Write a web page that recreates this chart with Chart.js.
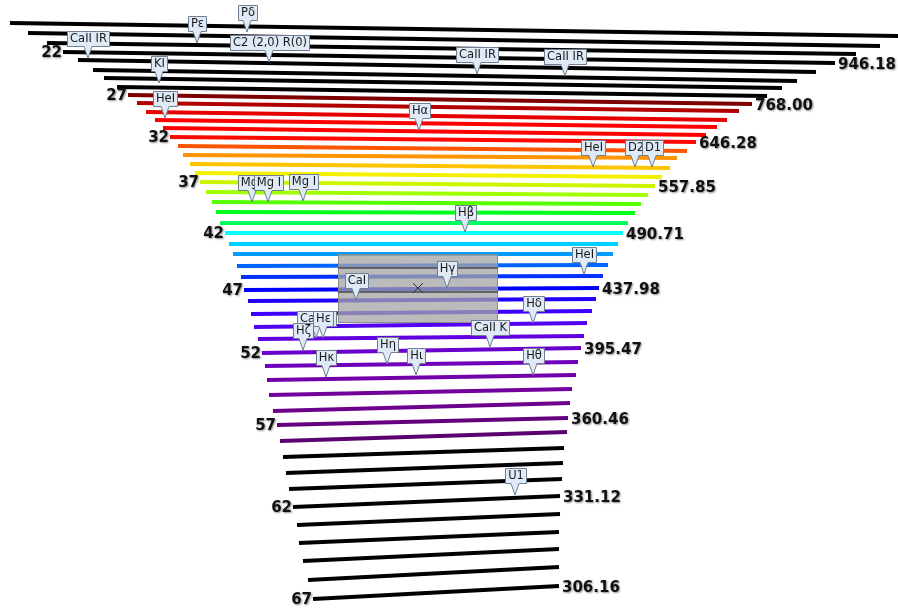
<!DOCTYPE html>
<html><head><meta charset="utf-8">
<script src="https://cdn.jsdelivr.net/npm/chart.js@4.4.1/dist/chart.umd.min.js"></script>
<style>html,body{margin:0;padding:0;background:#fff;overflow:hidden}canvas{display:block}</style>
</head><body>
<canvas id="c" width="898" height="610"></canvas>
<script>
// Echelle orders (diffraction order m) and the end points of each order trace on the detector
const orders = [19,20,21,22,23,24,25,26,27,28,29,30,31,32,33,34,35,36,37,38,39,40,41,42,43,44,45,46,47,48,49,50,51,52,53,54,55,56,57,58,59,60,61,62,63,64,65,66,67];
const leftX  = [10,28,47,63,78,93,104,117,128,137,146,155,163,170,178,183,190,195,200,206,212,216,220,225,229,233,237,241,244,248,251,254,258,262,265,267,269,273,277,280,283,286,289,293,297,299,303,308,313];
const leftY  = [23,33,43,52,60,70,78,87,95,103,112,120,128,137,146,155,164,173,182,192,202,212,223,233,244,254,266,277,290,301,314,327,339,353,366,380,395,411,425,441,457,473,489,507,525,543,561,580,599];
const rightX = [905,880,856,835,816,797,782,767,752,739,727,717,706,696,687,677,670,662,655,648,641,635,628,623,618,613,608,603,599,596,592,587,584,581,578,576,572,570,568,567,564,563,562,560,560,559,559,559,559];
const rightY = [36,46,54,63,72,81,88,96,104,111,120,127,135,142,151,158,168,177,186,195,204,213,223,233,244,254,265,276,288,299,311,323,336,348,362,375,389,403,418,432,448,463,479,496,514,532,549,567,586];
const orderColors = ['#000000','#000000','#000000','#000000','#000000','#000000','#000000','#000000',
  '#7d0000','#b00000','#e60000','#ff0000','#ff0000','#ff0800','#ff5500','#ff9500','#ffc400','#f4f000',
  '#ccf500','#a0ff00','#55ff00','#00ff1a','#00ff60','#00ffff','#00d0ff','#009cff','#0064ff','#0032ff',
  '#0000ff','#2000ff','#3d00ff','#5200f0','#6000e0','#6a00cc','#7000bc','#7200aa','#72009a','#6c008c',
  '#64007e','#5a0070','#000000','#000000','#000000','#000000','#000000','#000000','#000000','#000000','#000000'];

// Order numbers labelled on the left and the wavelength (nm) at the red end of that order on the right
const labeledOrders = [22,27,32,37,42,47,52,57,62,67];
const edgeWavelengths = ['946.18','768.00','646.28','557.85','490.71','437.98','395.47','360.46','331.12','306.16'];

// Spectral line identifications: name and where the line falls on the detector
const lineNames = ['Pε','Pδ','C2 (2,0) R(0)','CaII IR','KI','HeI','CaII IR','CaII IR','Hα','HeI','D2','D1',
  'Mg I','Mg I','Mg I','Hβ','HeI','CaI','Hγ','Hδ','CaII H','Hε','Hζ','CaII K','Hη','Hι','Hκ','Hθ','U1'];
const lineX = [197,247,269,88,159,165,477,565,419,593,635,652,252,268,303,465,584,356,447,533,316,323,303,490,387,416,326,533,515];
const lineY = [43,32,62,58,83,118,74,76,130,167,167,167,202,202,201,232,274,300,288,323,338,338,350,347,364,375,377,375,495];

// Field (slit) overlay: extent, two reference rows and its centre
const fieldX = [338, 498];
const fieldY = [254, 323];
const fieldRows = [268, 292];
const fieldCentre = [418, 288];

const overlay = {
  id: 'overlay',
  afterDatasetsDraw(chart) {
    const ctx = chart.ctx, xs = chart.scales.x, ys = chart.scales.y;
    const px = v => xs.getPixelForValue(v), py = v => ys.getPixelForValue(v);
    ctx.save();
    // field box
    const x0 = px(fieldX[0]), x1 = px(fieldX[1]), y0 = py(fieldY[0]), y1 = py(fieldY[1]);
    ctx.fillStyle = 'rgba(165,165,165,0.76)';
    ctx.fillRect(x0, y0, x1 - x0, y1 - y0);
    ctx.strokeStyle = '#8c8c8c'; ctx.lineWidth = 1;
    ctx.strokeRect(x0 + 0.5, y0 + 0.5, x1 - x0 - 1, y1 - y0 - 1);
    ctx.strokeStyle = '#484848'; ctx.lineWidth = 1.3;
    fieldRows.forEach(r => { ctx.beginPath(); ctx.moveTo(x0, py(r)); ctx.lineTo(x1, py(r)); ctx.stroke(); });
    const cx = px(fieldCentre[0]), cy = py(fieldCentre[1]);
    ctx.strokeStyle = '#333'; ctx.lineWidth = 1;
    ctx.beginPath(); ctx.moveTo(cx - 5, cy - 5); ctx.lineTo(cx + 5, cy + 5); ctx.moveTo(cx + 5, cy - 5); ctx.lineTo(cx - 5, cy + 5); ctx.stroke();

    // order numbers and edge wavelengths
    ctx.font = 'bold 15px "DejaVu Sans"';
    ctx.fillStyle = '#111';
    ctx.shadowColor = 'rgba(0,0,0,0.45)'; ctx.shadowBlur = 2; ctx.shadowOffsetX = 1; ctx.shadowOffsetY = 1;
    ctx.textBaseline = 'middle';
    labeledOrders.forEach((m, k) => {
      const i = orders.indexOf(m);
      ctx.textAlign = 'right';
      ctx.fillText(String(m), px(leftX[i]) - 1, py(leftY[i]) + 1);
      ctx.textAlign = 'left';
      ctx.fillText(edgeWavelengths[k], px(rightX[i]) + 3, py(rightY[i]) + 2);
    });
    ctx.shadowColor = 'transparent'; ctx.shadowBlur = 0; ctx.shadowOffsetX = 0; ctx.shadowOffsetY = 0;

    // callouts
    ctx.font = '11.5px "DejaVu Sans"';
    ctx.textAlign = 'center';
    lineNames.forEach((name, k) => {
      const tx = px(lineX[k]), ty = py(lineY[k]);
      const w = Math.round(ctx.measureText(name).width + 5);
      const h = 15, tail = 12;
      const bl = Math.round(tx - w / 2) + 0.5, br = bl + w, bb = Math.round(ty - tail) + 0.5, bt = bb - h;
      ctx.beginPath();
      ctx.moveTo(bl, bt); ctx.lineTo(br, bt); ctx.lineTo(br, bb);
      ctx.lineTo(tx + 4, bb); ctx.lineTo(tx, ty); ctx.lineTo(tx - 4, bb);
      ctx.lineTo(bl, bb); ctx.closePath();
      ctx.fillStyle = '#dfeaf6'; ctx.fill();
      ctx.strokeStyle = '#6f7f90'; ctx.lineWidth = 1; ctx.stroke();
      ctx.fillStyle = '#1a1a1a';
      ctx.fillText(name, (bl + br) / 2, bt + h / 2 + 0.5);
    });
    ctx.restore();
  }
};

new Chart(document.getElementById('c').getContext('2d'), {
  type: 'scatter',
  data: {
    datasets: orders.map((m, i) => ({
      label: 'm = ' + m,
      data: [{x: leftX[i], y: leftY[i]}, {x: rightX[i], y: rightY[i]}],
      showLine: true,
      borderColor: orderColors[i],
      backgroundColor: orderColors[i],
      borderWidth: 4,
      borderCapStyle: 'butt',
      pointRadius: 0,
      pointHoverRadius: 0
    }))
  },
  options: {
    responsive: false,
    animation: false,
    devicePixelRatio: 1,
    layout: {padding: 0},
    plugins: {legend: {display: false}, tooltip: {enabled: false}},
    scales: {
      x: {type: 'linear', min: 0, max: 898, display: false},
      y: {type: 'linear', min: 0, max: 610, reverse: true, display: false}
    }
  },
  plugins: [overlay]
});
</script>
</body></html>
